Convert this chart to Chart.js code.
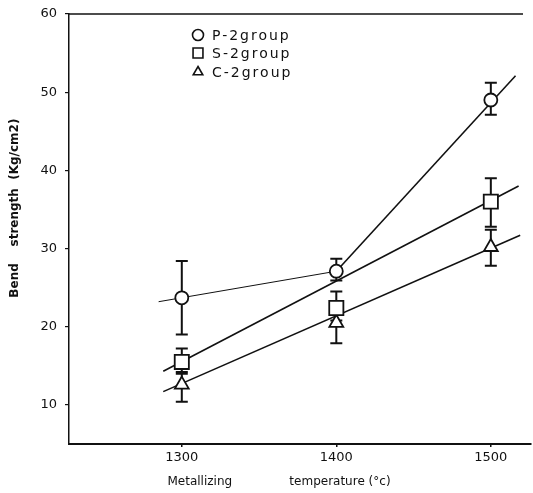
<!DOCTYPE html>
<html>
<head>
<meta charset="utf-8">
<script src="https://cdn.jsdelivr.net/npm/chart.js@4.4.1/dist/chart.umd.min.js"></script>
<style>
  html, body { margin: 0; background: #fff; }
</style>
</head>
<body>
<canvas id="bend" width="533" height="493"></canvas>
<script>
// metallizing temperature (°C)
var temps = [1300, 1400, 1500];
var groups = ['P-2group', 'S-2group', 'C-2group'];
var yTicks = [10, 20, 30, 40, 50, 60];

// bend strength, mean and error bar ends
var pMean = [23.7, 27.1, 49.0];
var pHigh = [28.4, 28.7, 51.2];
var pLow  = [19.0, 25.9, 47.1];

var sMean = [15.5, 22.4, 36.0];
var sHigh = [17.2, 24.5, 39.0];
var sLow  = [14.0, 20.8, 32.8];

var cMean = [12.6, 20.5, 30.2];
var cHigh = [14.2, 21.8, 32.4];
var cLow  = [10.4, 17.9, 27.8];

// drawn trend lines
var pFitX = [1285, 1400, 1516];
var pFitY = [23.2, 27.1, 52.1];
var sFitX = [1288, 1518];
var sFitY = [14.3, 38.0];
var cFitX = [1288, 1519];
var cFitY = [11.7, 31.7];

function pts(xs, ys) {
    return xs.map(function (x, i) { return { x: x, y: ys[i] }; });
}

var ink = '#111';
var font = 'DejaVu Sans';

function fitLine(xs, ys, w) {
    return {
        type: 'line', data: pts(xs, ys), borderColor: ink, borderWidth: w,
        pointRadius: 0, fill: false, tension: 0, order: 3
    };
}

function group(label, mean, hi, lo, style, r) {
    return {
        type: 'scatter', label: label, data: pts(temps, mean),
        hi: hi, lo: lo,
        pointStyle: style, pointRadius: r, pointHoverRadius: r,
        backgroundColor: '#fff', borderColor: ink, pointBorderWidth: 1.8,
        order: 1
    };
}

var pLine = fitLine(pFitX, pFitY, 1.6);
pLine.segment = { borderWidth: function (c) { return c.p0DataIndex === 0 ? 1 : 1.6; } };

var errorBars = {
    id: 'errorBars',
    beforeDatasetsDraw: function (chart) {
        var ctx = chart.ctx, x = chart.scales.x, y = chart.scales.y;
        ctx.save();
        ctx.strokeStyle = ink;
        ctx.lineWidth = 2;
        chart.data.datasets.forEach(function (ds) {
            if (!ds.hi) return;
            ds.data.forEach(function (p, i) {
                var px = x.getPixelForValue(p.x);
                var top = y.getPixelForValue(ds.hi[i]);
                var bot = y.getPixelForValue(ds.lo[i]);
                ctx.beginPath();
                ctx.moveTo(px, top); ctx.lineTo(px, bot);
                ctx.moveTo(px - 6, top); ctx.lineTo(px + 6, top);
                ctx.moveTo(px - 6, bot); ctx.lineTo(px + 6, bot);
                ctx.stroke();
            });
        });
        ctx.restore();
    }
};

var frame = {
    id: 'frame',
    afterDraw: function (chart) {
        var ctx = chart.ctx, a = chart.chartArea;
        ctx.save();
        ctx.strokeStyle = ink;
        ctx.lineWidth = 1.5;
        ctx.beginPath();
        ctx.moveTo(a.left, a.top);
        ctx.lineTo(a.right - 8, a.top);
        ctx.stroke();

        // legend inside the plot
        var rows = [35, 53, 72];
        ctx.font = '14px "' + font + '"';
        ctx.letterSpacing = '2px';
        ctx.textBaseline = 'middle';
        chart.data.datasets.filter(function (d) { return d.hi; }).forEach(function (ds, i) {
            ctx.lineWidth = 1.6;
            ctx.strokeStyle = ink;
            ctx.fillStyle = '#fff';
            Chart.helpers.drawPoint(ctx, { pointStyle: ds.pointStyle, radius: ds.pointStyle === 'rect' ? 7 : 5.5, borderWidth: 1.6 }, 198, rows[i]);
            ctx.fillStyle = ink;
            ctx.fillText(ds.label, 212, rows[i] + 1);
        });
        ctx.restore();
    }
};

new Chart(document.getElementById('bend'), {
    data: {
        datasets: [
            group(groups[0], pMean, pHigh, pLow, 'circle', 6.5),
            group(groups[1], sMean, sHigh, sLow, 'rect', 10),
            group(groups[2], cMean, cHigh, cLow, 'triangle', 8),
            pLine,
            fitLine(sFitX, sFitY, 1.6),
            fitLine(cFitX, cFitY, 1.6)
        ]
    },
    options: {
        responsive: false,
        animation: false,
        layout: { autoPadding: false, padding: { top: 14, right: 2, left: 0, bottom: 0 } },
        plugins: { legend: { display: false }, tooltip: { enabled: false } },
        scales: {
            x: {
                type: 'linear', min: 1227, max: 1526,
                afterBuildTicks: function (s) { s.ticks = temps.map(function (v) { return { value: v }; }); },
                afterFit: function (s) { s.height = 49; s.paddingLeft = 0; s.paddingRight = 0; },
                grid: { display: true, drawOnChartArea: false, tickLength: 3, color: ink, lineWidth: 1.5 },
                border: { color: ink, width: 2 },
                ticks: { color: ink, padding: 3, font: { family: font, size: 13 }, callback: function (v) { return String(v); } },
                title: {
                    display: true,
                    text: 'Metallizing               temperature (\u00b0c)           ',
                    color: ink, padding: 4,
                    font: { family: font, size: 12 }
                }
            },
            y: {
                type: 'linear', min: 5, max: 60,
                afterBuildTicks: function (s) { s.ticks = yTicks.map(function (v) { return { value: v }; }); },
                afterFit: function (s) { s.width = 69; s.paddingTop = 0; s.paddingBottom = 0; },
                grid: { display: true, drawOnChartArea: false, tickLength: 4, color: ink, lineWidth: 1.2 },
                border: { color: ink, width: 1.5 },
                ticks: { color: ink, padding: 8, font: { family: font, size: 13 } },
                title: {
                    display: true,
                    text: '          Bend    strength  (Kg/cm2)',
                    color: ink, padding: 8,
                    font: { family: font, size: 12, weight: 'bold' }
                }
            }
        }
    },
    plugins: [errorBars, frame]
});
</script>
</body>
</html>
